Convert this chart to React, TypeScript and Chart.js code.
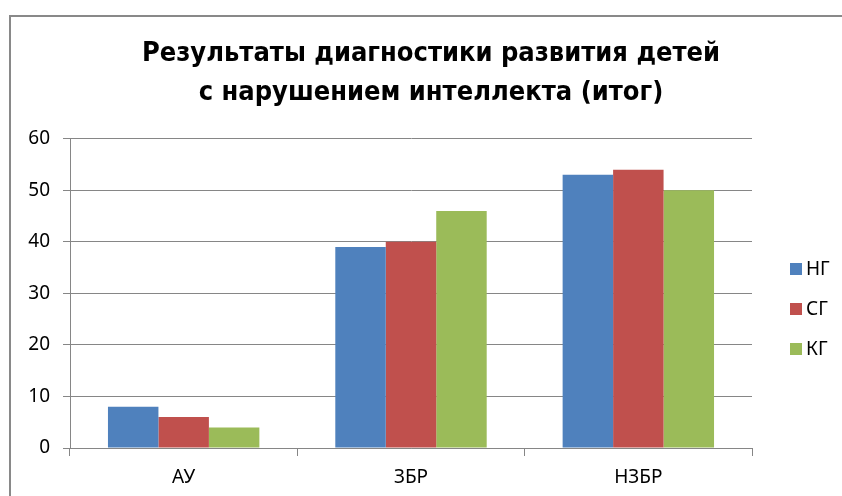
import React, { useEffect, useRef } from "react";
import { Chart, registerables } from "chart.js";

Chart.register(...registerables);

const categories = ["АУ", "ЗБР", "НЗБР"];
const seriesNames = ["НГ", "СГ", "КГ"];
const ngValues = [8, 39, 53];
const sgValues = [6, 40, 54];
const kgValues = [4, 46, 50];
const titleLines = ["Результаты диагностики развития детей", "с нарушением интеллекта (итог)"];
const yMin = 0;
const yMax = 60;
const yStep = 10;

const seriesColors = ["#4F81BD", "#C0504D", "#9BBB59"];
const gridColor = "#868686";
const textFont = "'Noto Sans', 'DejaVu Sans', sans-serif";
const titleFont = "'DejaVu Sans Condensed', 'Noto Sans', sans-serif";

const CANVAS_W = 842;
const CANVAS_H = 496;

const titleShiftPlugin = {
  id: "titleShift",
  afterLayout(chart: any) {
    if (chart.titleBlock) {
      chart.titleBlock.left = 0;
      chart.titleBlock.right = 862;
    }
  },
};

const sideLegendPlugin = {
  id: "sideLegend",
  afterDraw(chart: any) {
    const ctx = chart.ctx;
    const datasets = chart.data.datasets;
    const boxX = 790;
    const boxSize = 12;
    const textX = 806;
    const firstY = 269;
    const gap = 40;
    ctx.save();
    ctx.font = `19px ${textFont}`;
    ctx.textBaseline = "middle";
    ctx.textAlign = "left";
    datasets.forEach((ds: any, i: number) => {
      const y = firstY + i * gap;
      ctx.fillStyle = ds.backgroundColor;
      ctx.fillRect(boxX, y - boxSize / 2, boxSize, boxSize);
      ctx.fillStyle = "#000";
      ctx.fillText(ds.label, textX, y + 1);
    });
    ctx.restore();
  },
};

export default function App() {
  const canvasRef = useRef<HTMLCanvasElement | null>(null);

  useEffect(() => {
    const canvas = canvasRef.current;
    if (!canvas) return;
    const seriesValues = [ngValues, sgValues, kgValues];
    const chart = new Chart(canvas, {
      type: "bar",
      data: {
        labels: categories,
        datasets: seriesNames.map((name, i) => ({
          label: name,
          data: seriesValues[i],
          backgroundColor: seriesColors[i],
          borderWidth: 0,
          categoryPercentage: 0.666,
          barPercentage: 1,
        })),
      },
      options: {
        responsive: false,
        animation: false,
        devicePixelRatio: 1,
        layout: { padding: { left: 14, right: CANVAS_W - 752, top: 0, bottom: 0 } },
        plugins: {
          legend: { display: false },
          tooltip: { enabled: false },
          title: {
            display: true,
            text: titleLines,
            color: "#000",
            font: { family: titleFont, size: 27, weight: "bold", lineHeight: 1.44 },
            padding: { top: 35, bottom: 26 },
          },
        },
        scales: {
          x: {
            grid: {
              offset: true,
              drawOnChartArea: false,
              drawTicks: true,
              tickLength: 8,
              color: gridColor,
              lineWidth: 1,
            },
            border: { color: gridColor, width: 1 },
            ticks: {
              color: "#000",
              padding: 10,
              font: { family: textFont, size: 19 },
              maxRotation: 0,
            },
            afterFit(scale: any) {
              scale.height = 48;
            },
          },
          y: {
            min: yMin,
            max: yMax,
            grid: {
              color: gridColor,
              tickLength: 7,
              lineWidth: 1,
            },
            border: { color: gridColor, width: 1 },
            ticks: {
              stepSize: yStep,
              color: "#000",
              padding: 13,
              font: { family: textFont, size: 19 },
            },
            afterFit(scale: any) {
              scale.width = 56;
            },
          },
        },
      },
      plugins: [titleShiftPlugin, sideLegendPlugin],
    });
    return () => chart.destroy();
  }, []);

  return (
    <div
      style={{
        position: "fixed",
        left: 0,
        top: 0,
        width: CANVAS_W,
        height: CANVAS_H,
        overflow: "hidden",
        background: "#fff",
      }}
    >
      <div
        style={{
          position: "absolute",
          left: 9,
          top: 15,
          width: 900,
          height: 600,
          border: "2px solid #898989",
          boxSizing: "border-box",
        }}
      />
      <canvas
        ref={canvasRef}
        width={CANVAS_W}
        height={CANVAS_H}
        style={{ position: "absolute", left: 0, top: 0, width: CANVAS_W, height: CANVAS_H }}
      />
    </div>
  );
}
